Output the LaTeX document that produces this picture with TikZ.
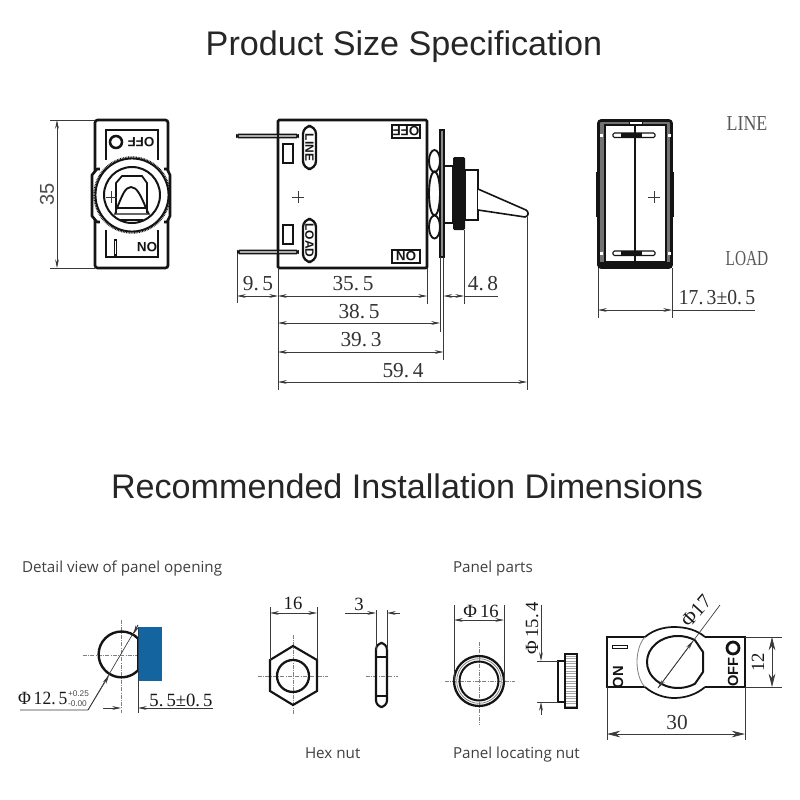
\documentclass[tikz,border=0pt]{standalone}
\usepackage{fontspec}
\setmainfont{Liberation Serif}
\newfontfamily\titlef{Liberation Sans}
\newfontfamily\labelf{Open Sans}
\newfontfamily\markf{Liberation Sans}[BoldFont={Liberation Sans Bold}]
\usetikzlibrary{arrows.meta}
\definecolor{ink}{HTML}{141414}
\definecolor{dimc}{HTML}{3A3A3A}
\definecolor{panelblue}{HTML}{14649F}
\tikzset{
  x=0.75pt,y=-0.75pt,
  every node/.style={inner sep=0pt,outer sep=0pt,text=ink},
  part/.style={draw=ink,line width=1.1pt},
  heavy/.style={draw=ink,line width=2pt},
  dimln/.style={draw=dimc,line width=0.5pt},
  cl/.style={draw=gray,line width=0.4pt,dash pattern=on 3pt off 1pt on 0.6pt off 1pt},
  tipa/.style={{Stealth[length=6.5pt,width=2.8pt]}-{Stealth[length=6.5pt,width=2.8pt]}},
  tipl/.style={{Stealth[length=10pt,width=5pt]}-{Stealth[length=10pt,width=5pt]}},
  tipb/.style={-{Stealth[length=6.5pt,width=2.8pt]}},
  titletxt/.style={font=\titlef\fontsize{25.6pt}{28pt}\selectfont,text=black!85},
  captxt/.style={font=\labelf\fontsize{11.4pt}{13pt}\selectfont,text=black!75},
  dimt/.style={font=\fontsize{16pt}{18pt}\selectfont,text=black!80},
  dimn/.style={font=\fontsize{14pt}{16pt}\selectfont,text=black!90},
  mk/.style={font=\markf\bfseries\fontsize{10pt}{10pt}\selectfont},
  mks/.style={font=\markf\bfseries\fontsize{9pt}{9pt}\selectfont},
  mkp/.style={font=\markf\bfseries\fontsize{11pt}{11pt}\selectfont},
  tol/.style={font=\titlef\fontsize{6.2pt}{7pt}\selectfont,text=black!70,anchor=west},
}
\newcommand{\sqz}[2]{\scalebox{#1}[1]{#2}}
\begin{document}
\begin{tikzpicture}
\useasboundingbox (0,0) rectangle (800,800);
\fill[white] (0,0) rectangle (800,800);

% titles
\node[titletxt] (t1) at (404,47) {Product Size Specification};
\node[titletxt] (t2) at (407,486) {Recommended Installation Dimensions};

% ---- front view
\draw[heavy,rounded corners=2pt] (95,120) rectangle (168,268);
\draw[part,line width=0.9pt] (106,130) rectangle (158,257);
\draw[heavy,fill=white,line join=round] (97,169) -- (92,175) -- (92,216) -- (97,222) -- (167,222) -- (170,216) -- (170,175) -- (167,169) -- cycle;
\fill[white] (100,160) rectangle (164,230);
\draw[part,fill=white,line width=1.4pt] (132,195) circle (36.5);
\draw[draw=ink,line width=1.8pt,dash pattern=on 0.6pt off 0.6pt] (132,195) circle (37.5);
\draw[part,line width=1.5pt] (132,195) circle (28);
\draw[part,line width=1.3pt] (116,213) -- (116,183) -- (122,176) -- (142,176) -- (147,183) -- (147,213);
\draw[part,line width=1.4pt] (117,208) .. controls (122,196) and (125,187) .. (131,187) .. controls (137,187) and (141,196) .. (146,208) -- cycle;
\draw[part] (117,208) -- (115,214) -- (149,214) -- (146,208);
\draw[part] (120,220) -- (143,220);
\draw[dimln] (106,197) -- (117,197) (111,191) -- (111,203);
\node[mk,rotate=180] (foff) at (141,142) {OFF};
\draw[part,line width=1.9pt] (116,142) circle (6);
\draw[part] (114.5,240) rectangle (116.5,255);
\node[mk,rotate=180] (fon) at (147,247) {ON};
\draw[dimln] (50,120) -- (95,120) (50,268) -- (95,268);
\draw[dimln,tipa] (57,120) -- (57,268);
\node[font=\titlef\fontsize{15pt}{16pt}\selectfont,rotate=90,text=black!70] (d35) at (47,194) {35};

% ---- side view
\draw[heavy,rounded corners=1pt] (278,120) rectangle (427,268);
\draw[part,fill=white,line width=1.3pt,rounded corners=1.2pt] (237,134.5) rectangle (298,137.5);
\draw[part,fill=white,line width=1.3pt,rounded corners=1.2pt] (238,250.5) rectangle (298,253.5);
\draw[draw=ink,line width=1pt] (278,119.5) -- (278,268);
\draw[part,line width=1.4pt] (283,144) rectangle (293,163);
\draw[part,line width=1.4pt] (283,225) rectangle (293,244);
\draw[part,line width=1.7pt,rounded corners=6pt] (303,126) rectangle (316,169);
\draw[part,line width=1.7pt,rounded corners=6pt] (303,219) rectangle (316,262);
\node[mks,rotate=-90] (sline) at (309.5,147.5) {LINE};
\node[mks,rotate=-90] (sload) at (309.5,240.5) {LOAD};
\draw[part,line width=1.8pt] (392,125) rectangle (420,138);
\draw[part,line width=1.8pt] (392,250) rectangle (420,263);
\node[mk,rotate=180] (soff) at (406,131.5) {OFF};
\node[mk,rotate=180] (son) at (406,256.5) {ON};
\draw[dimln,line width=0.7pt] (292,197) -- (304,197) (298,191) -- (298,203);
% nut + plate
\draw[part,line width=1.4pt,fill=white] (434.5,161) ellipse (5.5 and 11);
\draw[part,line width=1.4pt,fill=white] (434.5,193.5) ellipse (5.5 and 22);
\draw[part,line width=1.4pt,fill=white] (434.5,227) ellipse (5.5 and 11.5);
\draw[part,fill=black!45,line width=1pt] (440,130) rectangle (444,257);
\draw[part,line width=1.2pt] (444,166) rectangle (453,223);
\fill[ink,rounded corners=1pt] (453,157) rectangle (465,230);
\draw[part,line width=1.2pt] (465,170) rectangle (478,220);
\draw[part,line width=1.2pt,line join=round,fill=white] (478,189) -- (526,210) .. controls (529,212) and (529,216) .. (525,217) -- (478,210);
% dims
\draw[dimln] (237,253) -- (237,303) (278,268) -- (278,390) (427,268) -- (427,304)
  (440,257) -- (440,332) (443.5,257) -- (443.5,360) (527,217) -- (527,390) (464,230) -- (464,304);
\draw[dimln,tipa] (237,296) -- (278,296);
\draw[dimln,tipa] (278,296) -- (427,296);
\draw[dimln,tipa] (278,323) -- (440,323);
\draw[dimln,tipa] (278,352) -- (443.5,352);
\draw[dimln,tipa] (278,382) -- (527,382);
\draw[dimln,tipa] (443.5,296) -- (464,296);
\draw[dimln] (464,296) -- (498,296);
\node[dimt] (d95) at (258,284) {9.\,5};
\node[dimt] (d355) at (353,284) {35.\,5};
\node[dimt] (d385) at (359,312) {38.\,5};
\node[dimt] (d393) at (361,340) {39.\,3};
\node[dimt] (d594) at (403,371) {59.\,4};
\node[dimt] (d48) at (483,284) {4.\,8};

% ---- rear view
\fill[ink] (596,172) rectangle (599,217);
\fill[ink] (671,172) rectangle (674,217);
\draw[heavy,fill=black!55,rounded corners=2pt] (598.5,120.5) rectangle (671.5,267.5);
\fill[ink] (598,262) rectangle (672,268);
\draw[draw=ink,line width=1.3pt,fill=white] (605,125) rectangle (666,262);
\fill[white] (629,121) rectangle (642,124);
\draw[draw=ink,line width=0.4pt] (629,121) rectangle (642,124);
\foreach \px/\py in {601/135,669/135,601/253,669/253}{\fill[white] (\px-1.5,\py-1.5) rectangle (\px+1.5,\py+1.5);}
\draw[draw=ink,line width=1.2pt] (635,125) -- (635,262);
\draw[part,fill=white,line width=0.8pt,rounded corners=1pt] (613,133) rectangle (655,137.5);
\draw[part,fill=white,line width=0.8pt,rounded corners=1pt] (613,251) rectangle (655,255.5);
\fill[ink] (621,132.5) rectangle (642,138);
\fill[ink] (621,250.5) rectangle (642,256);
\draw[dimln,line width=0.7pt] (648,197) -- (660,197) (654,191) -- (654,203);
\node[dimt,text=black!65] (rline) at (747,124) {\sqz{0.84}{LINE}};
\node[dimt,text=black!65] (rload) at (747,259) {\sqz{0.72}{LOAD}};
\draw[dimln] (598,268) -- (598,318) (672,268) -- (672,318);
\draw[dimln,tipa] (598,310) -- (672,310);
\draw[dimln] (672,310) -- (755,310);
\node[dimt] (d173) at (717,298) {\sqz{0.92}{17.\,3±0.\,5}};

% ---- captions
\node[captxt,anchor=west] (c1) at (22,569) {Detail view of panel opening};
\node[captxt,anchor=west] (c2) at (453,569) {Panel parts};
\node[captxt,anchor=west] (c3) at (305,753) {Hex nut};
\node[captxt,anchor=west] (c4) at (453,755) {Panel locating nut};

% ---- panel opening
\fill[panelblue] (139,627) rectangle (162,681);
\draw[cl] (121,620) -- (121,713) (83,655) -- (138,655);
\draw[draw=ink,line width=1.8pt] (138,638.5) arc[start angle=-44,end angle=-316,radius=22.9];
\draw[draw=ink,line width=1.8pt] (138,639) -- (138,671);
\draw[dimln] (138,627) -- (138,713);
\draw[dimln] (138,625) -- (88,710) -- (20,710);
\draw[dimln,tipb] (138,625) -- (133.5,634);
\draw[dimln,tipb] (88,710) -- (109,675.5);
\draw[dimln,tipb] (103,708) -- (121,708);
\draw[dimln,tipb] (213,708) -- (138,708);
\node[dimn,anchor=west] (d125) at (18,698) {\sqz{0.94}{Φ\,12.\,5}};
\node[tol] (tolu) at (68,694) {+0.25};
\node[tol] (toll) at (68,704) {-0.00};
\node[dimn] (d55) at (181,700) {5.\,5±0.\,5};

% ---- hex nut
\draw[cl] (258,676) -- (328,676) (293,635) -- (293,715);
\draw[part,line width=1.6pt] (293,646) -- (317,660) -- (317,691) -- (293,705) -- (270,691) -- (270,660) -- cycle;
\draw[part,line width=1.7pt] (293,676) circle (16);
\draw[dimln,line width=0.6pt] (270,607) -- (270,660) (317,607) -- (317,660);
\draw[dimln,tipa] (270,613) -- (317,613);
\node[dimn] (d16a) at (293,603) {16};
\draw[cl] (366,676) -- (398,676);
\draw[part,line width=1.6pt,rounded corners=5pt] (376,643) rectangle (387,707);
\draw[part,line width=1.1pt] (376,657) -- (387,657) (376,696) -- (387,696);
\draw[dimln,line width=0.6pt] (376,610) -- (376,650) (387,610) -- (387,650);
\draw[dimln,tipb] (345,613) -- (376,613);
\draw[dimln,tipb] (400,613) -- (387,613);
\node[dimn] (d3) at (359,604) {3};

% ---- ring
\draw[cl] (445,681) -- (515,681) (479,642) -- (479,725);
\draw[part,line width=1.7pt] (479,681) circle (25);
\draw[draw=gray,line width=0.6pt] (479,681) circle (22.3);
\draw[part,line width=1.5pt] (479,681) circle (19.5);
\draw[dimln,line width=0.6pt] (454,605) -- (454,681) (504,605) -- (504,681);
\draw[dimln,tipa] (454,620) -- (504,620);
\node[dimn] (d16b) at (481,611) {Φ\,16};

% ---- locating nut
\foreach \ky in {656,658.5,...,706}{\draw[draw=black!35,line width=0.3pt] (565,\ky) -- (577,\ky);}
\draw[part,line width=1.6pt] (565,654) rectangle (577,708);
\draw[part,line width=1.5pt] (558,661) rectangle (565,702);
\draw[dimln,line width=0.6pt] (537,661) -- (558,661) (537,702) -- (558,702);
\draw[dimln,tipb] (541,605) -- (541,661);
\draw[dimln,tipb] (541,715) -- (541,702);
\node[dimn,rotate=90] (d154) at (532,628) {Φ\,15.\,4};

% ---- plate
\draw[part,line width=1.3pt] (645,637) -- (607,637) -- (607,687) -- (645,687);
\draw[part,line width=1.3pt] (705,637) -- (745,637) -- (745,687) -- (705,687);
\draw[part,line width=1.3pt] (645,637) .. controls (653,630) and (664,627) .. (674,627) .. controls (686,627) and (697,630) .. (705,637);
\draw[part,line width=1.3pt] (645,687) .. controls (653,694) and (664,698) .. (674,698) .. controls (686,698) and (697,694) .. (705,687);
\draw[draw=gray,line width=0.6pt] (645,637) .. controls (640,642) and (637,652) .. (637,662) .. controls (637,672) and (640,682) .. (645,687);
\draw[part,line width=1.5pt] (695,683.7) arc[start angle=56.7,end angle=303.3,x radius=31,y radius=26] -- (703,652) -- (703,672) -- cycle;
\draw[part,line width=0.7pt] (612,645) rectangle (627,648);
\node[mkp,rotate=90] (pon) at (618,677) {ON};
\node[mkp,rotate=90] (poff) at (733,672) {OFF};
\draw[part,line width=2.1pt] (733,648) circle (6);
\draw[dimln] (658,688) -- (720,605);
\draw[dimln,tipa] (658,688) -- (693,641);
\node[dimn,rotate=48,font=\fontsize{15pt}{16pt}\selectfont] (d17) at (696,611) {Φ17};
\draw[dimln] (745,637) -- (782,637) (745,687) -- (782,687);
\draw[dimln,tipl] (772,637) -- (772,687);
\node[dimn,rotate=90] (d12) at (758,662) {12};
\draw[dimln] (607,687) -- (607,740) (745,687) -- (745,740);
\draw[dimln,tipl] (607,734) -- (745,734);
\node[dimt] (d30) at (677,723) {30};
\end{tikzpicture}
\end{document}
